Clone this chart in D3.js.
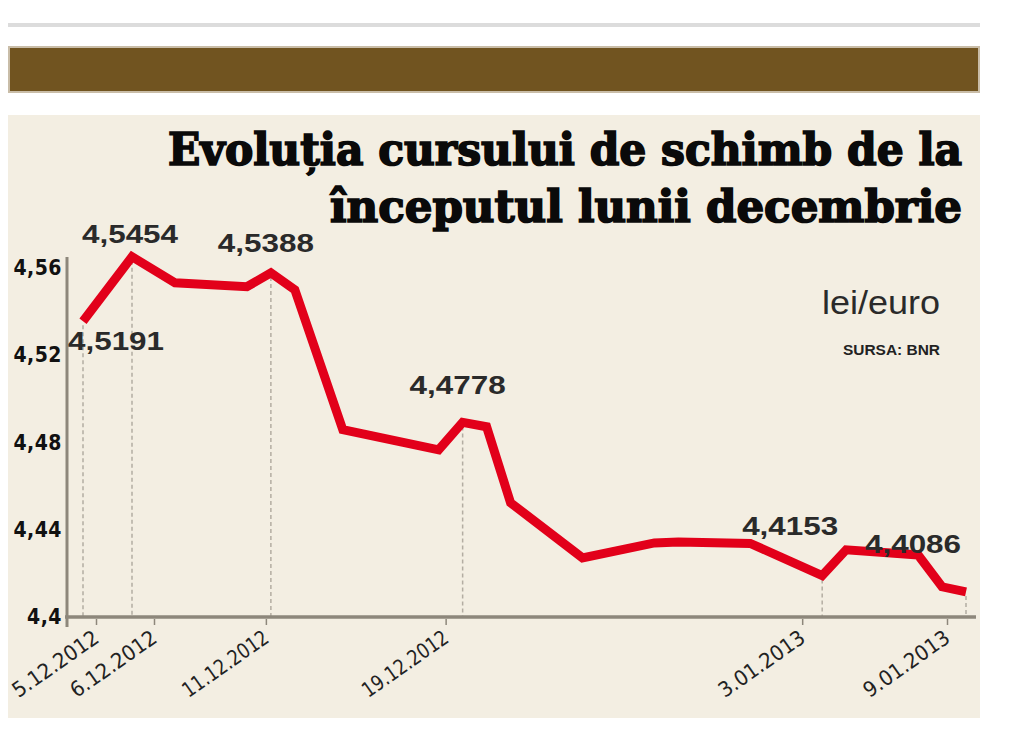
<!DOCTYPE html>
<html><head><meta charset="utf-8">
<script src="https://cdn.jsdelivr.net/npm/d3@7"></script>
<style>body{margin:0;background:#fff}</style>
</head><body><svg id="c" width="1014" height="750"></svg>
<script>
// ---------- data ----------
const dates = ["2012-12-05","2012-12-06","2012-12-07","2012-12-10","2012-12-11","2012-12-12","2012-12-14","2012-12-18","2012-12-19","2012-12-20","2012-12-21","2012-12-24","2012-12-27","2012-12-28","2012-12-31","2013-01-03","2013-01-04","2013-01-07","2013-01-08","2013-01-09"];
const rates = [4.5191,4.5454,4.5348,4.5332,4.5388,4.5319,4.4748,4.4666,4.4778,4.4760,4.4450,4.4225,4.4286,4.4290,4.4284,4.4153,4.4258,4.4237,4.4107,4.4086];
const markedDates = ["2012-12-05","2012-12-06","2012-12-11","2012-12-19","2013-01-03","2013-01-09"];
const yTickValues = [4.4,4.44,4.48,4.52,4.56];
const titleLines = ["Evoluția cursului de schimb de la","începutul lunii decembrie"];
const unitLabel = "lei/euro";
const sourceLabel = "SURSA: BNR";

// ---------- setup ----------
const parse = d3.utcParse("%Y-%m-%d");
const series = dates.map((d,i)=>({date:parse(d), value:rates[i]}));
const marked = markedDates.map(d=>series.find(s=>+s.date===+parse(d)));
const ro = d3.formatLocale({decimal:",", thousands:".", grouping:[3], currency:["","lei"]});
const fmt4 = ro.format(".4f");
const fmtTick = v => ro.format("~g")(v);
const fmtDate = d3.utcFormat("%-d.%m.%Y");

const svg = d3.select("#c");

// page decoration
svg.append("rect").attr("x",8).attr("y",23).attr("width",972).attr("height",4).attr("fill","#dcdcdc");
svg.append("rect").attr("x",9).attr("y",47).attr("width",970).attr("height",45)
  .attr("fill","#715420").attr("stroke","#c9bda8").attr("stroke-width",2);
svg.append("rect").attr("x",8).attr("y",115).attr("width",972).attr("height",603).attr("fill","#f3eee2");

// title
const titleX = 962;
const titleSpec = [{y:165,len:794},{y:222,len:632}];
titleLines.forEach((t,i)=>{
  svg.append("text").text(t)
    .attr("x",titleX).attr("y",titleSpec[i].y)
    .attr("text-anchor","end")
    .attr("textLength",titleSpec[i].len).attr("lengthAdjust","spacingAndGlyphs")
    .style("font-family","'DejaVu Serif Condensed','DejaVu Serif',serif")
    .style("font-stretch","condensed")
    .style("font-weight","bold").style("font-size","44px").attr("fill","#0a0a0a")
    .attr("stroke","#0a0a0a").attr("stroke-width",1.6);
});

// scales
const xLeft = 83, xRight = 966;
const x = d3.scaleUtc()
  .domain([parse("2012-12-05"),parse("2012-12-06"),parse("2012-12-07"),parse("2013-01-09")])
  .range([xLeft, xLeft+49, xLeft+92, xRight]);
const y = d3.scaleLinear().domain([4.4,4.56]).range([613,221]);        // plotted line
const yPrinted = d3.scaleLinear().domain([4.4,4.56]).range([617,268]);  // printed axis labels

const axisColor = "#8d877b";
const baseY = 617;

// dashed drop lines
svg.append("g").selectAll("line").data(marked).join("line")
  .attr("x1",d=>x(d.date)).attr("x2",d=>x(d.date))
  .attr("y1",d=>y(d.value)+4).attr("y2",baseY)
  .attr("stroke","#b3ada2").attr("stroke-width",1.5).attr("stroke-dasharray","4,3");

// axes lines
svg.append("line").attr("x1",67).attr("x2",67).attr("y1",257).attr("y2",627)
  .attr("stroke",axisColor).attr("stroke-width",3);
svg.append("line").attr("x1",65).attr("x2",976).attr("y1",baseY).attr("y2",baseY)
  .attr("stroke",axisColor).attr("stroke-width",3.5);

// y axis labels
const gy = svg.append("g").attr("transform","translate(63,0)")
  .call(d3.axisLeft(yPrinted).tickValues(yTickValues).tickSize(0).tickPadding(1).tickFormat(fmtTick));
gy.select(".domain").remove();
gy.selectAll("text").style("font-family","'DejaVu Sans Condensed','DejaVu Sans',sans-serif")
  .style("font-weight","bold").style("font-size","21px").attr("fill","#111").attr("letter-spacing","0.5");

// x axis
const xLabelShift = [17, 26, -1, -13, -16, -15];
const gx = svg.append("g").attr("transform",`translate(0,${baseY+2})`)
  .call(d3.axisBottom(x).tickValues(marked.map(d=>d.date)).tickSize(6).tickFormat(fmtDate));
gx.select(".domain").remove();
gx.selectAll(".tick line").attr("stroke",axisColor).attr("stroke-width",1.5)
  .attr("transform",(d,i)=>`translate(${xLabelShift[i]-4},0)`);
gx.selectAll("text")
  .attr("y",0).attr("x",0).attr("dy",0)
  .attr("text-anchor","end")
  .attr("transform",(d,i)=>`translate(${xLabelShift[i]},22) rotate(-35)`)
  .attr("textLength",100).attr("lengthAdjust","spacingAndGlyphs")
  .style("font-family","'DejaVu Sans Condensed','DejaVu Sans',sans-serif")
  .style("font-size","21px").attr("fill","#222");

// line
svg.append("path").datum(series)
  .attr("d", d3.line().x(d=>x(d.date)).y(d=>y(d.value)))
  .attr("fill","none").attr("stroke","#e2001a").attr("stroke-width",9)
  .attr("stroke-linejoin","miter").attr("stroke-miterlimit",3);

// value labels
const place = [
  {dx:33, dy:29},
  {dx:-2, dy:-14},
  {dx:-5, dy:-21},
  {dx:-5, dy:-28},
  {dx:-32,dy:-41},
  {dx:-53,dy:-39}
];
svg.append("g").selectAll("text").data(marked).join("text")
  .text(d=>fmt4(d.value))
  .attr("x",(d,i)=>x(d.date)+place[i].dx)
  .attr("y",(d,i)=>y(d.value)+place[i].dy)
  .attr("text-anchor","middle")
  .attr("textLength",96).attr("lengthAdjust","spacingAndGlyphs")
  .style("font-family","'Liberation Sans',Arial,sans-serif")
  .style("font-size","25px").style("font-weight","bold").attr("fill","#2a2a2a");

// unit + source
svg.append("text").text(unitLabel).attr("x",940).attr("y",314).attr("text-anchor","end")
  .attr("textLength",118).attr("lengthAdjust","spacingAndGlyphs")
  .style("font-family","'Liberation Sans',Arial,sans-serif").style("font-size","34px").attr("fill","#2a2a2a");
svg.append("text").text(sourceLabel).attr("x",940).attr("y",355).attr("text-anchor","end")
  .attr("textLength",97).attr("lengthAdjust","spacingAndGlyphs")
  .style("font-family","'Liberation Sans',Arial,sans-serif").style("font-size","14px")
  .style("font-weight","bold").attr("fill","#222");
</script></body></html>
